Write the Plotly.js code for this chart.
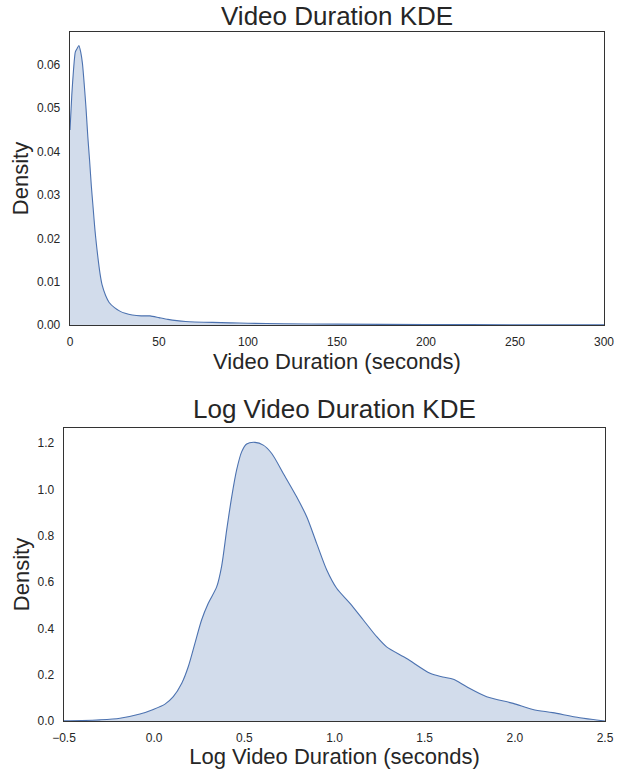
<!DOCTYPE html>
<html>
<head>
<meta charset="utf-8">
<script src="https://cdn.plot.ly/plotly-3.0.1.min.js"></script>
<style>html,body{margin:0;padding:0;background:#fff;}#chart{width:621px;height:769px;}</style>
</head>
<body>
<div id="chart"></div>
<script>
// Video duration (seconds) KDE
const durX = [0, 1, 2, 3, 4, 5, 6, 7, 8, 9, 10, 11, 12, 13, 14, 15, 16, 17, 18, 20, 22, 25, 28, 31, 35, 40, 45, 50, 55, 60, 65, 70, 80, 90, 100, 120, 150, 200, 250, 300];
const durY = [0.045, 0.053, 0.059, 0.063, 0.0638, 0.0645, 0.063, 0.0603, 0.0555, 0.050, 0.0435, 0.038, 0.032, 0.027, 0.022, 0.018, 0.0145, 0.0115, 0.0093, 0.0068, 0.0052, 0.0040, 0.0032, 0.0027, 0.0023, 0.0021, 0.0021, 0.0017, 0.0013, 0.0010, 0.0008, 0.0007, 0.0006, 0.0005, 0.0004, 0.0003, 0.0002, 0.0001, 0.00006, 0.00003];

// Log video duration KDE
const logX = [-0.5, -0.4, -0.3, -0.19, -0.079, -0.005, 0.06, 0.106, 0.153, 0.189, 0.226, 0.263, 0.30, 0.347, 0.374, 0.402, 0.43, 0.457, 0.485, 0.513, 0.559, 0.605, 0.652, 0.716, 0.79, 0.846, 0.901, 0.957, 1.012, 1.086, 1.16, 1.234, 1.289, 1.40, 1.53, 1.60, 1.659, 1.733, 1.844, 1.991, 2.10, 2.21, 2.36, 2.5];
const logY = [0.001, 0.002, 0.005, 0.012, 0.030, 0.050, 0.073, 0.105, 0.163, 0.234, 0.335, 0.436, 0.508, 0.58, 0.668, 0.824, 0.968, 1.083, 1.162, 1.196, 1.203, 1.191, 1.155, 1.069, 0.968, 0.882, 0.767, 0.652, 0.573, 0.508, 0.436, 0.364, 0.32, 0.27, 0.206, 0.19, 0.18, 0.148, 0.105, 0.076, 0.05, 0.036, 0.014, 0.0];

const titles = ["Video Duration KDE", "Log Video Duration KDE"];
const xTitles = ["Video Duration (seconds)", "Log Video Duration (seconds)"];
const yTitle = "Density";

const lineColor = "#4c72b0";
const fillColor = "rgba(76,114,176,0.25)";
const FONT = "Liberation Sans, Arial, sans-serif";
const TXT = "#262626";

const traces = [
  {x: durX, y: durY, xaxis: "x", yaxis: "y", type: "scatter", mode: "lines",
   line: {color: lineColor, width: 1.1, shape: "spline", smoothing: 0.6}, fill: "tozeroy", fillcolor: fillColor},
  {x: logX, y: logY, xaxis: "x2", yaxis: "y2", type: "scatter", mode: "lines",
   line: {color: lineColor, width: 1.1, shape: "spline", smoothing: 0.8}, fill: "tozeroy", fillcolor: fillColor}
];

const axBase = {
  showline: true, mirror: true, linecolor: "#333333", linewidth: 1.3,
  showgrid: false, zeroline: false, ticks: "",
  tickfont: {family: FONT, size: 12, color: TXT},
};
const xBase = Object.assign({}, axBase, {ticklabelstandoff: 5});
const yBase = Object.assign({}, axBase, {ticklabelstandoff: 6});
const tFont = {family: FONT, size: 22, color: TXT};

const layout = {
  width: 621, height: 769,
  margin: {l: 0, r: 0, t: 0, b: 0},
  paper_bgcolor: "#fff", plot_bgcolor: "#fff",
  showlegend: false,
  font: {family: FONT, color: TXT},
  xaxis: Object.assign({}, xBase, {domain: [70/621, 604/621], anchor: "y", range: [0, 300], tickvals: [0, 50, 100, 150, 200, 250, 300],
    title: {text: xTitles[0], font: tFont, standoff: 4}}),
  yaxis: Object.assign({}, yBase, {domain: [444/769, 737/769], anchor: "x", range: [0, 0.0676], tickvals: [0, 0.01, 0.02, 0.03, 0.04, 0.05, 0.06], tickformat: ".2f",
    title: {text: yTitle, font: tFont, standoff: 2}}),
  xaxis2: Object.assign({}, xBase, {domain: [64/621, 605/621], anchor: "y2", range: [-0.5, 2.5], tickvals: [-0.5, 0, 0.5, 1, 1.5, 2, 2.5], tickformat: ".1f",
    title: {text: xTitles[1], font: tFont, standoff: 4}}),
  yaxis2: Object.assign({}, yBase, {domain: [48/769, 341/769], anchor: "x2", range: [0, 1.265], tickvals: [0, 0.2, 0.4, 0.6, 0.8, 1.0, 1.2], tickformat: ".1f",
    title: {text: yTitle, font: tFont, standoff: 2}}),
  annotations: [
    {text: titles[0], xref: "paper", yref: "paper", x: 337/621, y: 1 - 16/769, xanchor: "center", yanchor: "middle", showarrow: false,
     font: {family: FONT, size: 26, color: TXT}},
    {text: titles[1], xref: "paper", yref: "paper", x: 335/621, y: 1 - 409/769, xanchor: "center", yanchor: "middle", showarrow: false,
     font: {family: FONT, size: 26, color: TXT}}
  ]
};

Plotly.newPlot("chart", traces, layout, {displayModeBar: false, staticPlot: true});
</script>
</body>
</html>
